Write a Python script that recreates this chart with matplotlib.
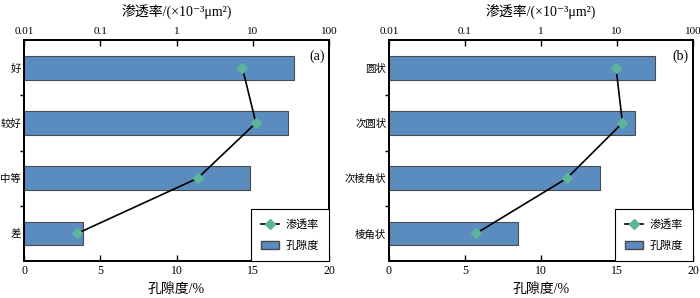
import matplotlib.pyplot as plt
from matplotlib.lines import Line2D
from matplotlib.patches import Patch

plt.rcParams['font.family'] = ['Liberation Serif', 'Noto Sans CJK SC', 'DejaVu Sans']
plt.rcParams['axes.unicode_minus'] = False

# panel (a): sorting quality
cats_a = ['好', '较好', '中等', '差']
poro_a = [17.7, 17.3, 14.8, 3.9]
perm_a = [7.3, 11.0, 1.9, 0.05]

# panel (b): roundness
cats_b = ['圆状', '次圆状', '次棱角状', '棱角状']
poro_b = [17.5, 16.2, 13.9, 8.5]
perm_b = [9.7, 11.8, 2.2, 0.14]

perm_ticks = [0.01, 0.1, 1, 10, 100]
perm_ticklabels = ['0.01', '0.1', '1', '10', '100']

bar_color = '#5a8cc0'
bar_edge = '#4a4a4a'
mark_color = '#5cb59b'


def draw_panel(rect, cats, poro, perm, tag):
    ax = fig.add_axes(rect)
    y = list(range(len(cats)))
    ax.barh(y, poro, height=0.43, color=bar_color, edgecolor=bar_edge, linewidth=0.8)
    ax.set_xlim(0, 20)
    ax.set_ylim(len(cats) - 0.5, -0.5)
    ax.set_xticks([0, 5, 10, 15, 20])
    ax.tick_params(axis='x', direction='in', length=4, width=1, labelsize=8.5, pad=3)
    ax.set_yticks(y)
    ax.set_yticklabels(cats, fontsize=7.5)
    ax.tick_params(axis='y', length=0, pad=2)
    ax.set_yticks([0.5, 1.5, 2.5], minor=True)
    ax.tick_params(axis='y', which='minor', direction='out', length=3, width=1)
    ax.set_xlabel('孔隙度/%', fontsize=10, labelpad=4)
    for s in ax.spines.values():
        s.set_linewidth(1.3)

    ax2 = ax.twiny()
    ax2.set_xscale('log')
    ax2.plot(perm, y, color='black', linewidth=1.2, marker='D', markersize=5,
             markerfacecolor=mark_color, markeredgecolor=mark_color)
    ax2.set_xlim(0.01, 100)
    ax2.set_ylim(len(cats) - 0.5, -0.5)
    ax2.set_xticks(perm_ticks)
    ax2.set_xticklabels(perm_ticklabels)
    ax2.xaxis.set_minor_locator(plt.NullLocator())
    ax2.tick_params(axis='x', direction='in', length=4, width=1, labelsize=8, pad=3)
    ax2.set_xlabel('渗透率/(×10⁻³μm²)', fontsize=10, labelpad=8)
    for s in ax2.spines.values():
        s.set_linewidth(1.3)
    ax2.text(0.985, 0.955, tag, transform=ax2.transAxes, ha='right', va='top', fontsize=10)

    handles = [Line2D([0], [0], color='black', linewidth=1.2, marker='D', markersize=5,
                      markerfacecolor=mark_color, markeredgecolor=mark_color),
               Patch(facecolor=bar_color, edgecolor=bar_edge)]
    leg = ax2.legend(handles, ['渗透率', '孔隙度'], loc='lower right', fontsize=8,
                     frameon=True, fancybox=False, edgecolor='black', framealpha=1,
                     borderaxespad=0, handlelength=1.6, handletextpad=0.6,
                     borderpad=0.9, labelspacing=1.0)
    leg.get_frame().set_linewidth(0.8)


fig = plt.figure(figsize=(7, 2.98), dpi=100)
draw_panel([0.0343, 0.124, 0.4357, 0.7416], cats_a, poro_a, perm_a, '(a)')
draw_panel([0.5557, 0.124, 0.4343, 0.7416], cats_b, poro_b, perm_b, '(b)')
fig.savefig('out.png', dpi=100)
